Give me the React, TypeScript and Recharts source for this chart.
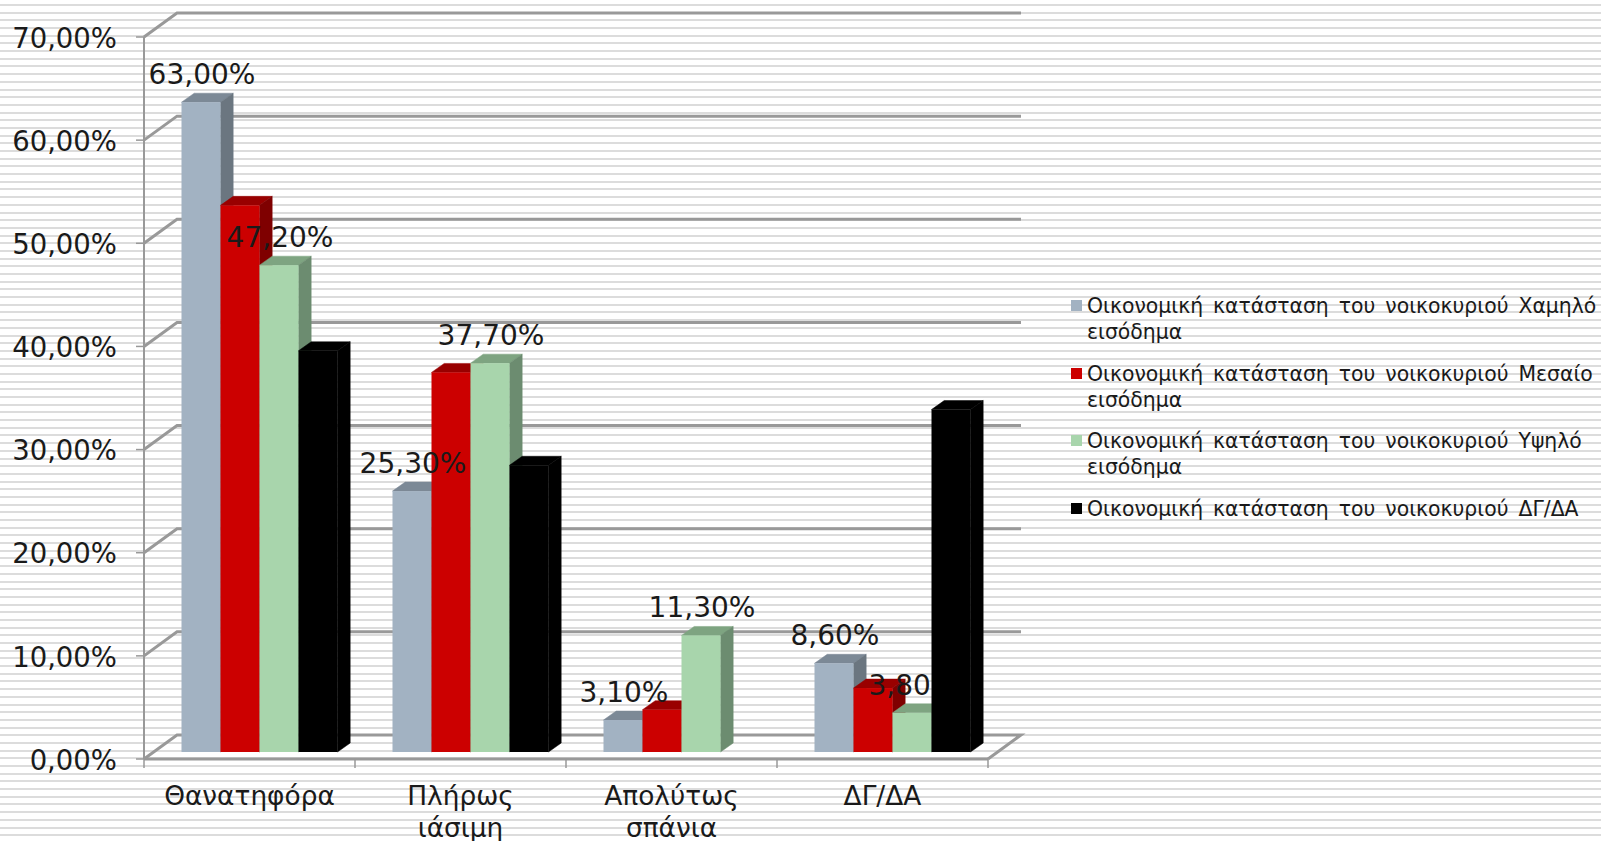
import { BarChart, Bar, XAxis, YAxis, CartesianGrid, Legend, LabelList } from 'recharts';

const categories = ['Θανατηφόρα', 'Πλήρως ιάσιμη', 'Απολύτως σπάνια', 'ΔΓ/ΔΑ'];
const lowIncome = [63, 25.3, 3.1, 8.6];
const midIncome = [53, 36.8, 4.1, 6.2];
const highIncome = [47.2, 37.7, 11.3, 3.8];
const noAnswer = [38.9, 27.8, 0, 33.2];
const yTicks = [0, 10, 20, 30, 40, 50, 60, 70];

const lowName = 'Οικονομική κατάσταση του νοικοκυριού Χαμηλό εισόδημα';
const midName = 'Οικονομική κατάσταση του νοικοκυριού Μεσαίο εισόδημα';
const highName = 'Οικονομική κατάσταση του νοικοκυριού Υψηλό εισόδημα';
const naName = 'Οικονομική κατάσταση του νοικοκυριού ΔΓ/ΔΑ';

const data = categories.map((name, i) => ({
  name,
  low: lowIncome[i],
  mid: midIncome[i],
  high: highIncome[i],
  na: noAnswer[i],
}));

const FONT = '"DejaVu Sans", sans-serif';
const GRID = '#999999';
const TEXT = '#1a1a1a';

// 3D look: the bars sit a little inside the floor, the wall is further back
const BAR_DX = 9.5;
const BAR_DY = -7;
const DEPTH_X = 12.7;
const DEPTH_Y = -9;
const WALL_X = 33;
const WALL_Y = -24;
const PLOT_WIDTH = 844;

const pct = (v: number) => v.toFixed(2).replace('.', ',') + '%';

const bar3d = (top: string, side: string) => (props: any) => {
  const { x, y, width, height, fill } = props;
  if (!height || height <= 0) return <g />;
  const l = x + BAR_DX;
  const t = y + BAR_DY;
  const r = l + width;
  const b = t + height;
  return (
    <g>
      <polygon points={`${l},${t} ${l + DEPTH_X},${t + DEPTH_Y} ${r + DEPTH_X},${t + DEPTH_Y} ${r},${t}`} fill={top} stroke={top} strokeWidth={0.5} />
      <polygon points={`${r},${t} ${r + DEPTH_X},${t + DEPTH_Y} ${r + DEPTH_X},${b + DEPTH_Y} ${r},${b}`} fill={side} stroke={side} strokeWidth={0.5} />
      <rect x={l} y={t} width={width} height={height} fill={fill} />
    </g>
  );
};

const ValueLabel = (props: any) => {
  const { x, y, width, value } = props;
  return (
    <text x={x + BAR_DX + width / 2 + 1} y={y + BAR_DY - 18} textAnchor="middle" fontFamily={FONT} fontSize={28} fill={TEXT}>
      {pct(value)}
    </text>
  );
};

const WallLine = (props: any) => {
  const { x1, x2, y1 } = props;
  const isFloor = y1 > 700;
  const pts = [`${x1},${y1}`, `${x1 + WALL_X},${y1 + WALL_Y}`, `${x2 + WALL_X},${y1 + WALL_Y}`];
  if (isFloor) pts.push(`${x2},${y1}`);
  return <polyline points={pts.join(' ')} fill="none" stroke={GRID} strokeWidth={3} />;
};

const CategoryTick = (props: any) => {
  const { x, y, payload, index } = props;
  const band = PLOT_WIDTH / categories.length;
  const words = String(payload.value).split(' ');
  return (
    <g>
      <line x1={x - band / 2} x2={x - band / 2} y1={y - 8} y2={y + 1} stroke={GRID} strokeWidth={1.5} />
      {index === categories.length - 1 && (
        <line x1={x + band / 2} x2={x + band / 2} y1={y - 8} y2={y + 1} stroke={GRID} strokeWidth={1.5} />
      )}
      <text textAnchor="middle" fontFamily={FONT} fontSize={26.4} fill={TEXT}>
        {words.map((w, i) => (
          <tspan key={w} x={x} y={y + 38 + i * 32}>{w}</tspan>
        ))}
      </text>
    </g>
  );
};

const LegendBox = (props: any) => (
  <div style={{ fontFamily: FONT, fontSize: 20.4, wordSpacing: 3.5, lineHeight: '26px', color: TEXT, width: 530 }}>
    {props.payload.map((item: any) => (
      <div key={item.value} style={{ position: 'relative', paddingLeft: 16, marginBottom: 15.5, width: 514 }}>
        <span style={{ position: 'absolute', left: 0, top: 7, width: 11, height: 11, background: item.color }} />
        {item.value}
      </div>
    ))}
  </div>
);

export default function App() {
  return (
    <div
      style={{
        position: 'absolute',
        left: 0,
        top: 0,
        width: 1601,
        height: 841,
        overflow: 'hidden',
        backgroundColor: '#fff',
        backgroundImage: 'repeating-linear-gradient(to bottom, #fff 0, #fff 4px, #dcdcdc 4px, #dcdcdc 6px, #fff 6px, #fff 7.687px)',
      }}
    >
      <BarChart
        width={1601}
        height={841}
        data={data}
        margin={{ top: 37, right: 1601 - 144 - PLOT_WIDTH, bottom: 0, left: 0 }}
        barCategoryGap={28}
        barGap={0}
      >
        <CartesianGrid vertical={false} horizontal={WallLine as any} />
        <XAxis
          dataKey="name"
          height={82}
          axisLine={{ stroke: GRID, strokeWidth: 3 }}
          tickLine={false}
          tick={CategoryTick as any}
          interval={0}
        />
        <YAxis
          width={144}
          domain={[0, 70]}
          ticks={yTicks}
          tickFormatter={pct}
          axisLine={{ stroke: GRID, strokeWidth: 2 }}
          tickLine={{ stroke: GRID, strokeWidth: 1.5 }}
          tickSize={8}
          tickMargin={19}
          tick={{ fontFamily: FONT, fontSize: 27.5, fill: TEXT, dy: 1 }}
        />
        <Legend
          layout="vertical"
          align="center"
          verticalAlign="middle"
          itemSorter={null}
          content={LegendBox as any}
          wrapperStyle={{ left: 1071, top: 293, width: 530 }}
        />
        <Bar dataKey="low" name={lowName} fill="#a2b2c2" isAnimationActive={false} shape={bar3d('#7c8996', '#6b7680')}>
          <LabelList dataKey="low" content={ValueLabel as any} />
        </Bar>
        <Bar dataKey="mid" name={midName} fill="#cc0000" isAnimationActive={false} shape={bar3d('#990000', '#7f0000')} />
        <Bar dataKey="high" name={highName} fill="#a8d5ac" isAnimationActive={false} shape={bar3d('#7ea481', '#6c8c70')}>
          <LabelList dataKey="high" content={ValueLabel as any} />
        </Bar>
        {/* sits above the value labels, it hides part of the 3,80% label in the original */}
        <Bar dataKey="na" name={naName} fill="#000000" isAnimationActive={false} zIndex={2100} shape={bar3d('#000000', '#000000')} />
      </BarChart>
    </div>
  );
}
